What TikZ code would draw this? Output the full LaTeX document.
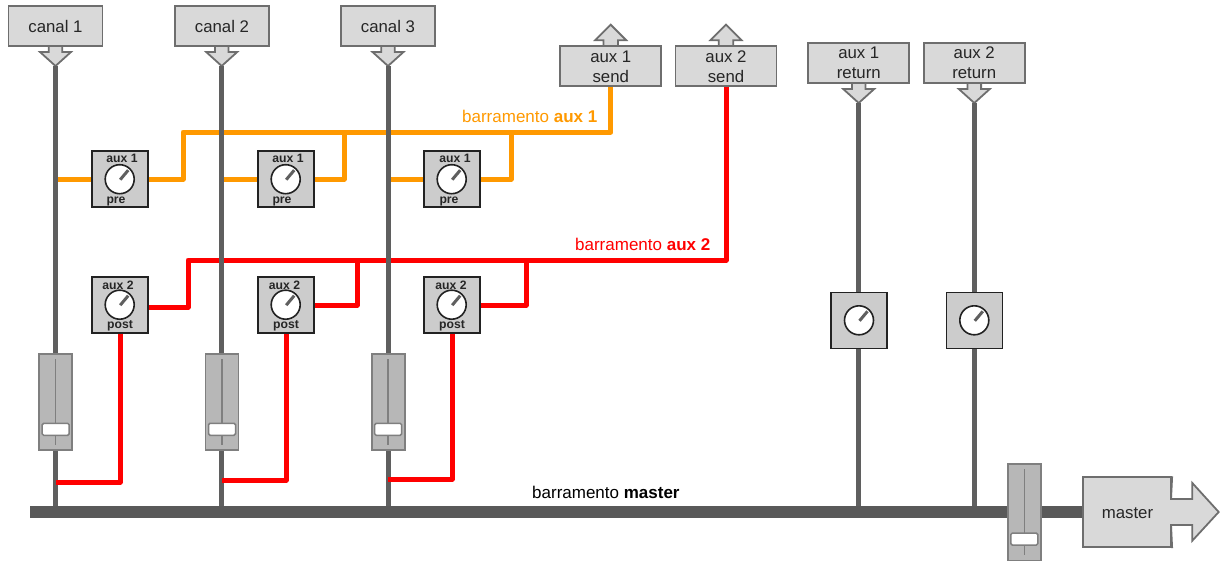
\documentclass[tikz,border=0pt]{standalone}
\usepackage{fontspec}
\setmainfont{Liberation Sans}
\definecolor{boxfill}{HTML}{D9D9D9}
\definecolor{boxline}{HTML}{6E6E6E}
\definecolor{potfill}{HTML}{CCCCCC}
\definecolor{potline}{HTML}{222222}
\definecolor{fadfill}{HTML}{B7B7B7}
\definecolor{fadline}{HTML}{7F7F7F}
\definecolor{wire}{HTML}{5F5F5F}
\definecolor{busc}{HTML}{595959}
\definecolor{auxa}{HTML}{FF9900}
\definecolor{auxb}{HTML}{FF0000}
\tikzset{
  iobox/.style={draw=boxline,fill=boxfill,line width=1.8pt,inner sep=0pt,rectangle,
    minimum width=#1,minimum height=40pt,align=center,font=\fontsize{16.8}{20}\selectfont,text=black!85},
  iobox/.default=101pt,
  ioarrow/.style={draw=boxline,fill=boxfill,line width=1.8pt,line join=miter},
  potbox/.style={draw=potline,fill=potfill,line width=1.6pt,rectangle,inner sep=0pt,minimum size=56pt},
  knob/.style={draw=potline,fill=white,line width=1.6pt,circle,inner sep=0pt,minimum size=29pt},
  needle/.style={draw=wire,line width=3pt},
  potlabel/.style={font=\fontsize{12.2}{14}\bfseries\selectfont,text=black!85,inner sep=0pt},
  faderbox/.style={draw=fadline,fill=fadfill,line width=1.6pt,rectangle,inner sep=0pt,minimum width=33pt,minimum height=96.5pt},
  faderslot/.style={draw=fadline,line width=1.5pt},
  faderhandle/.style={draw=fadline,fill=white,line width=1.5pt,rectangle,rounded corners=1.5pt,inner sep=0pt,minimum width=27pt,minimum height=12pt},
  chan/.style={draw=wire,line width=5pt},
  orangewire/.style={draw=auxa,line width=5pt,line join=round},
  redwire/.style={draw=auxb,line width=5pt,line join=round},
  busbar/.style={fill=busc,rectangle,inner sep=0pt,minimum height=12pt},
  buslabel/.style={font=\fontsize{17}{20}\selectfont,inner sep=0pt},
}
% down arrow beneath a box: tip at (#1,#2), named coordinate #3 at the tip
\newcommand{\downarrowat}[3]{%
  \draw[ioarrow] (#1-6.8,#2-20) -- (#1-6.8,#2-14) -- (#1-15.5,#2-14) -- (#1,#2) -- (#1+15.5,#2-14) -- (#1+6.8,#2-14) -- (#1+6.8,#2-20);
  \coordinate (#3) at (#1,#2);}
\newcommand{\uparrowat}[2]{%
  \draw[ioarrow] (#1-7.3,#2+21.5) -- (#1-7.3,#2+15.5) -- (#1-15.5,#2+15.5) -- (#1,#2) -- (#1+15.5,#2+15.5) -- (#1+7.3,#2+15.5) -- (#1+7.3,#2+21.5);}
% pot: name, cx, cy
\newcommand{\potunit}[3]{%
  \node[potbox] (#1) at (#2,#3) {};
  \node[knob] (#1k) at (#2,#3) {};
  \coordinate (#1c) at (#2+0.5,#3+0.5);
  \coordinate (#1n) at (#2+8.5,#3-9);
  \draw[needle] (#1c) -- (#1n);}
% fader: name, cx, cy, handle y
\newcommand{\faderunit}[4]{%
  \node[faderbox] (#1) at (#2,#3) {};
  \coordinate (#1s) at (#2,#3-43);
  \coordinate (#1e) at (#2,#3+43);
  \draw[faderslot] (#1s) -- (#1e);
  \node[faderhandle] (#1h) at (#2,#4) {};}
\begin{document}
\begin{tikzpicture}[x=1pt,y=-1pt]
\useasboundingbox (0,0) rectangle (1221,560);
\clip (0,0) rectangle (1221,560);

% I/O boxes and arrows
\downarrowat{55.5}{66}{t1}
\downarrowat{221.7}{66}{t2}
\downarrowat{388}{66}{t3}
\node[iobox=94pt] (c1) at (55.5,26.3) {canal 1};
\node[iobox=94pt] (c2) at (222,26.3) {canal 2};
\node[iobox=94pt] (c3) at (388,26.3) {canal 3};

\uparrowat{610.7}{24.7}
\uparrowat{726}{24.7}
\node[iobox] (s1) at (610.8,66.3) {\raisebox{-1pt}{aux 1}\\\raisebox{-1pt}{send}};
\node[iobox] (s2) at (726,66.3) {\raisebox{-1pt}{aux 2}\\\raisebox{-1pt}{send}};

\downarrowat{858.7}{103}{t4}
\downarrowat{974.3}{103}{t5}
\node[iobox] (r1) at (858.8,62.7) {\raisebox{-1pt}{aux 1}\\\raisebox{-1pt}{return}};
\node[iobox] (r2) at (974.2,62.7) {\raisebox{-1pt}{aux 2}\\\raisebox{-1pt}{return}};

% junctions used by the wiring (drawn before the gray channels)
\coordinate (p1a) at (120,179);
\coordinate (p2a) at (286,179);
\coordinate (p3a) at (452,179);
\coordinate (p1b) at (120,307);
\coordinate (p2b) at (286,305);
\coordinate (p3b) at (452,305);

% orange bus
\draw[orangewire] (s1.south) |- (183,132) -- (183,179) -- (p1a);
\draw[orangewire] (344,132) -- (344,179) -- (p2a);
\draw[orangewire] (511,132) -- (511,179) -- (p3a);
\draw[orangewire] (t1 |- p1a) -- (p1a);
\draw[orangewire] (t2 |- p2a) -- (p2a);
\draw[orangewire] (t3 |- p3a) -- (p3a);
% red bus
\draw[redwire] (s2.south) |- (188,260) -- (188,307) -- (p1b);
\draw[redwire] (357,260) -- (357,305) -- (p2b);
\draw[redwire] (526,260) -- (526,305) -- (p3b);

% master bus
\node[iobox,minimum width=88.5pt,minimum height=70pt] (m) at (1127,512.3) {};
\node[busbar,anchor=east,minimum width=1052pt] (bus) at (m.west) {};

% channel lines
\draw[chan] (t1) -- (t1 |- bus.north);
\draw[chan] (t2) -- (t2 |- bus.north);
\draw[chan] (t3) -- (t3 |- bus.north);
\draw[chan] (t4) -- (t4 |- bus.north);
\draw[chan] (t5) -- (t5 |- bus.north);

% post-fader returns
\draw[redwire] (p1b) -- (120,482.3) -- (t1 |- 0,482.3);
\draw[redwire] (p2b) -- (286,480.3) -- (t2 |- 0,480.3);
\draw[redwire] (p3b) -- (452,479) -- (t3 |- 0,479);

% pots
\potunit{p1}{119.7}{179.2}
\potunit{p2}{285.7}{179.2}
\potunit{p3}{451.7}{179.2}
\potunit{p4}{119.7}{304.7}
\potunit{p5}{285.7}{304.7}
\potunit{p6}{451.7}{304.7}
\potunit{p7}{859}{320.3}
\potunit{p8}{974.3}{320.3}

\node[potlabel] (l1a) at (122,158.5) {aux 1};
\node[potlabel] (l2a) at (288,158.5) {aux 1};
\node[potlabel] (l3a) at (455,158.5) {aux 1};
\node[potlabel] (l1p) at (116,201) {pre};
\node[potlabel] (l2p) at (282,201) {pre};
\node[potlabel] (l3p) at (449,201) {pre};
\node[potlabel] (l4a) at (118,285) {aux 2};
\node[potlabel] (l5a) at (284.5,285) {aux 2};
\node[potlabel] (l6a) at (451,285) {aux 2};
\node[potlabel] (l4p) at (120,326) {post};
\node[potlabel] (l5p) at (286,326) {post};
\node[potlabel] (l6p) at (452,326) {post};

% faders
\faderunit{f1}{55.7}{402}{429.3}
\faderunit{f2}{222}{402}{429.3}
\faderunit{f3}{388.2}{402}{429.3}
\faderunit{f4}{1024.3}{512.3}{539}

% master box
\draw[ioarrow] (m.north east) -- (1171,499) -- (1192.3,499) -- (1192.3,483) -- (1218.7,512) -- (1192.3,540.7) -- (1192.3,525) -- (1171,525) -- (m.south east);
\fill[boxfill] (1165,500) rectangle (1172,524);
\node[font=\fontsize{16.8}{20}\selectfont,text=black!85,inner sep=0pt] (ml) at (1127.5,513) {master};

% labels
\node[buslabel,text=auxa,anchor=east] (la) at (597.5,116) {barramento \textbf{aux 1}};
\node[buslabel,text=auxb,anchor=east] (lb) at (710.5,244) {barramento \textbf{aux 2}};
\node[buslabel,text=black,anchor=west] (lm) at (532,492) {barramento \textbf{master}};
\end{tikzpicture}
\end{document}
